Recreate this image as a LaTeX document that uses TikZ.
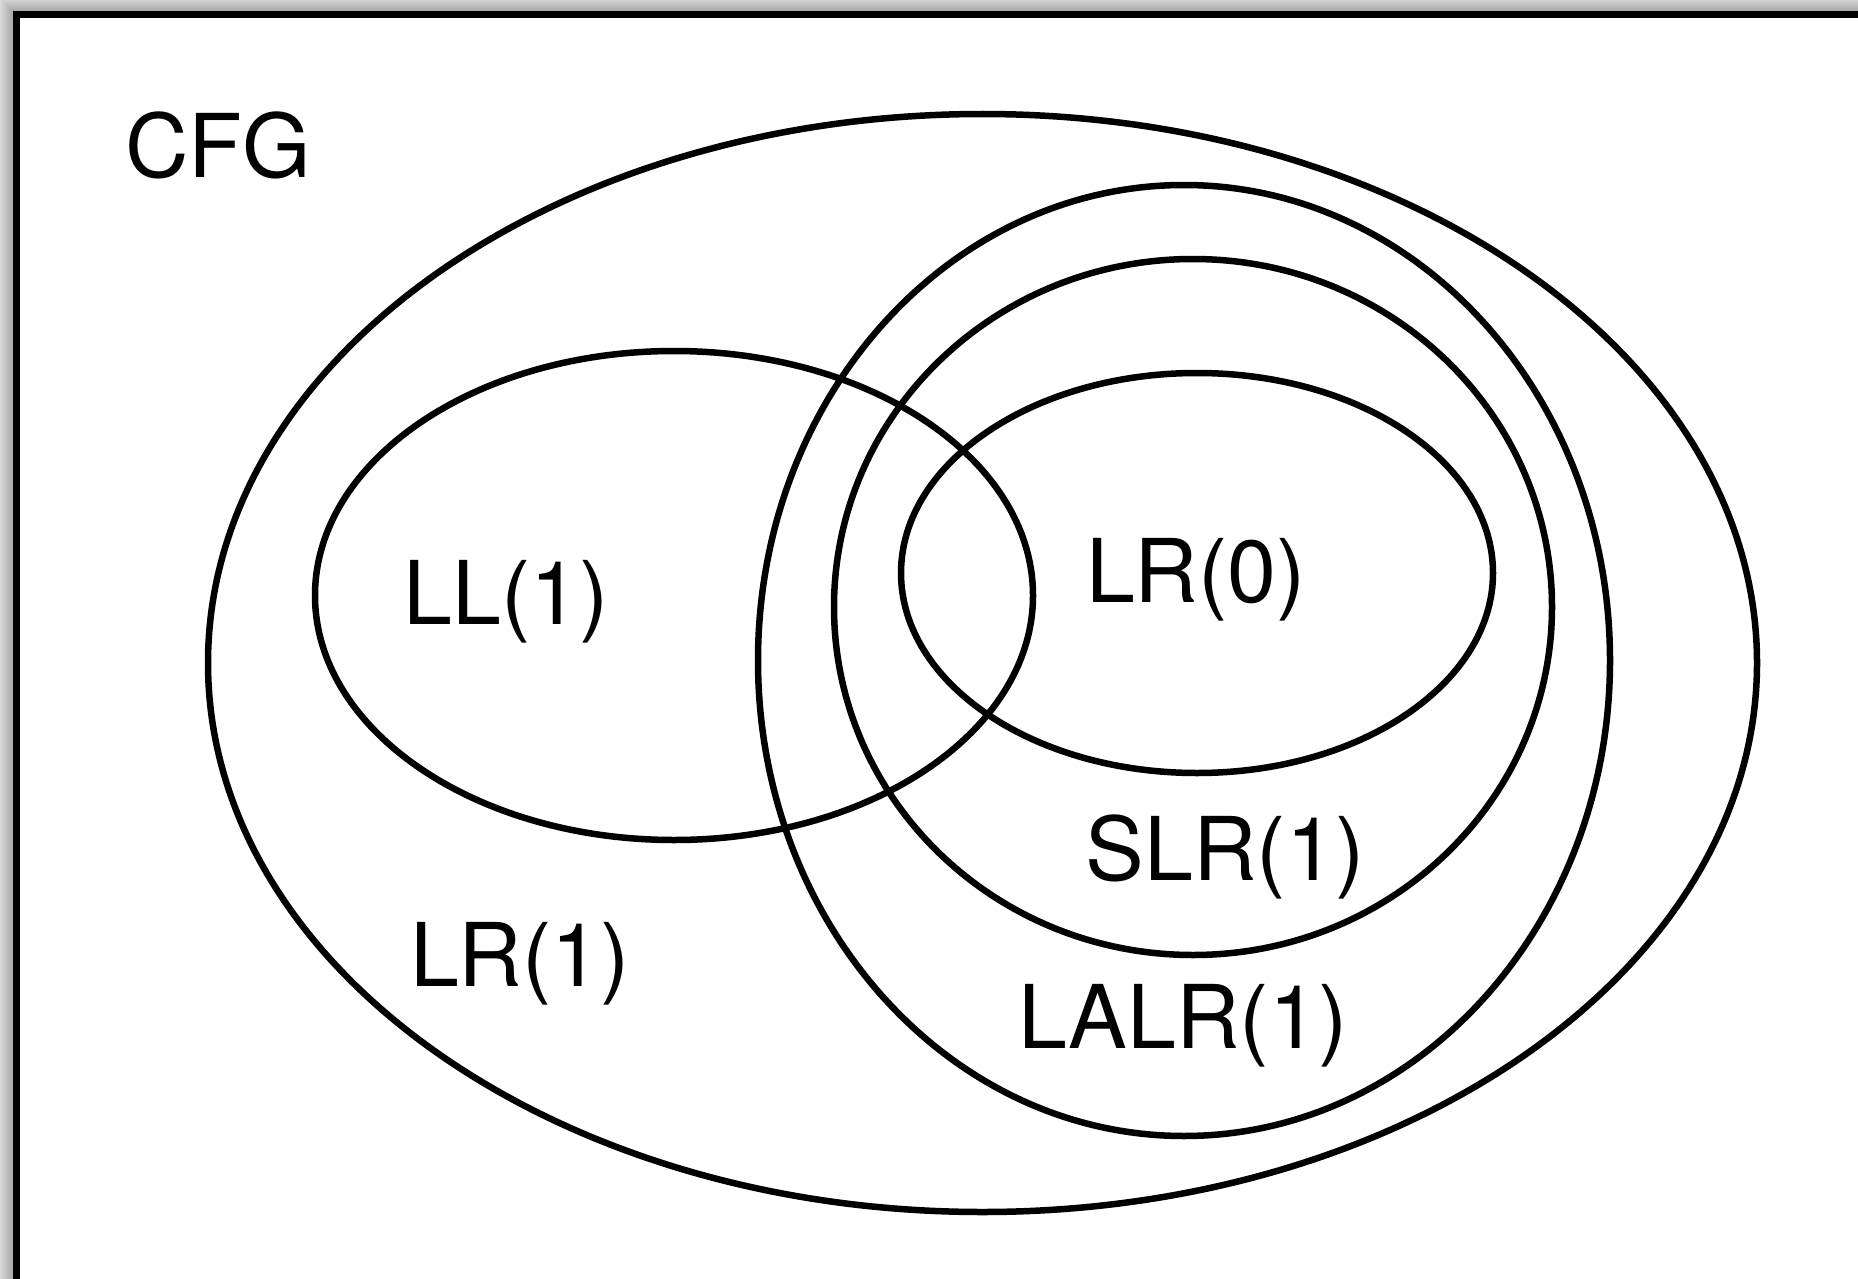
\documentclass[tikz,border=0pt]{standalone}
\usepackage{fontspec}
\setmainfont{TeX Gyre Heros}
\usetikzlibrary{shapes.geometric}
\begin{document}
\begin{tikzpicture}[x=1pt,y=-1pt,
  setshape/.style={draw, ellipse, line width=6.5pt, inner sep=0pt, outer sep=0pt},
  lbl/.style={font=\fontsize{88}{100}\selectfont, anchor=base, inner sep=0pt}]
\useasboundingbox (0,0) rectangle (1858,1279);
\begin{scope}
  \clip (0,0) rectangle (1858,1279);
  \foreach \k in {1,...,20}
    \fill[black, opacity=0.018] (13-\k,11-\k) rectangle (1900,1320);
  \fill[white] (16.5,14.5) rectangle (1900,1320);
  \draw[line width=7pt] (16.5,14.5) rectangle (1900,1320);
\end{scope}
\node[setshape, minimum width=1549pt, minimum height=1098pt] (lr1) at (982.5,663) {};
\node[setshape, minimum width=852pt, minimum height=951pt] (lalr) at (1184,660.5) {};
\node[setshape, minimum width=718pt, minimum height=696pt] (slr) at (1193,607) {};
\node[setshape, minimum width=592pt, minimum height=400pt] (lr0) at (1197,573) {};
\node[setshape, minimum width=718pt, minimum height=489pt] (ll1) at (674,595.5) {};
\node[lbl] (tcfg) at (218,178) {CFG};
\node[lbl] (tll1) at (506,624.5) {LL(1)};
\node[lbl] (tlr0) at (1196,602) {LR(0)};
\node[lbl] (tslr) at (1225,880) {SLR(1)};
\node[lbl] (tlr1) at (520,986) {LR(1)};
\node[lbl] (tlalr) at (1183,1048) {LALR(1)};
\end{tikzpicture}
\end{document}
